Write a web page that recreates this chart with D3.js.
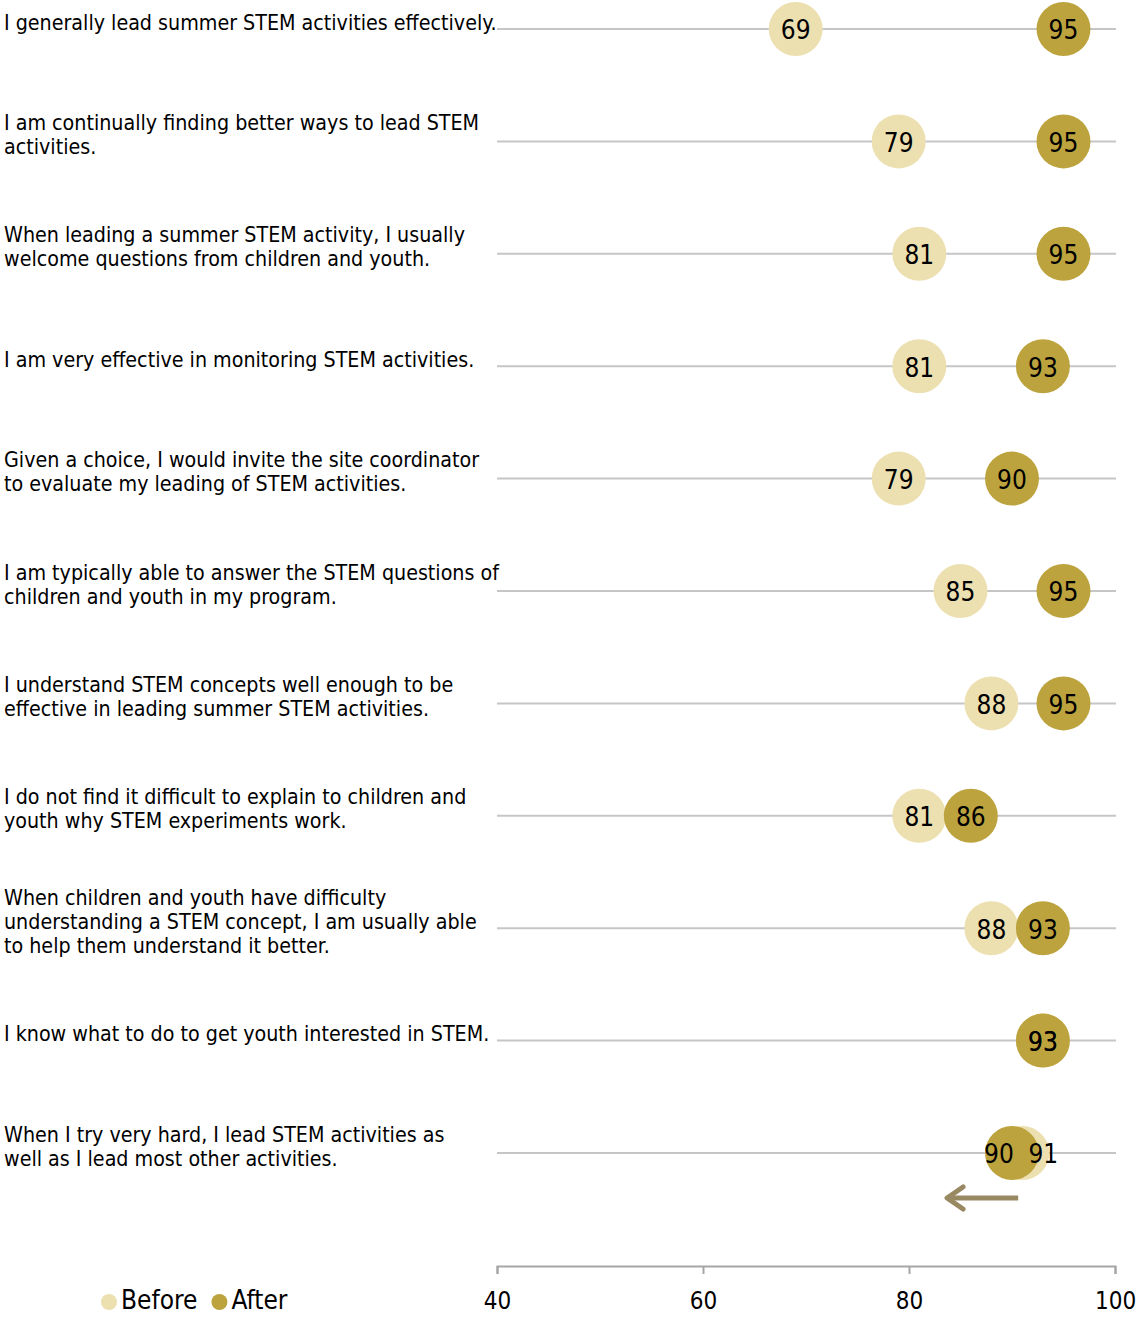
<!DOCTYPE html>
<html><head><meta charset="utf-8">
<script src="https://cdn.jsdelivr.net/npm/d3@7"></script>
<style>body{margin:0;background:#fff}</style>
</head><body><svg id="c" width="1138" height="1317"></svg>
<script>
const categories = [
  ["I generally lead summer STEM activities effectively."],
  ["I am continually finding better ways to lead STEM", "activities."],
  ["When leading a summer STEM activity, I usually", "welcome questions from children and youth."],
  ["I am very effective in monitoring STEM activities."],
  ["Given a choice, I would invite the site coordinator", "to evaluate my leading of STEM activities."],
  ["I am typically able to answer the STEM questions of", "children and youth in my program."],
  ["I understand STEM concepts well enough to be", "effective in leading summer STEM activities."],
  ["I do not find it difficult to explain to children and", "youth why STEM experiments work."],
  ["When children and youth have difficulty", "understanding a STEM concept, I am usually able", "to help them understand it better."],
  ["I know what to do to get youth interested in STEM."],
  ["When I try very hard, I lead STEM activities as", "well as I lead most other activities."]
];
const before = [69, 79, 81, 81, 79, 85, 88, 81, 88, 93, 91];
const after  = [95, 95, 95, 93, 90, 95, 95, 86, 93, 93, 90];
const tickValues = [40, 60, 80, 100];
const seriesNames = ["Before", "After"];
const arrowFromTo = [90.6, 83.5];

const colors = {Before: "#ECDFB0", After: "#BCA33E"};
const svg = d3.select("#c");
const x = d3.scaleLinear().domain([40, 100]).range([497, 1115]);
const y = d3.scalePoint().domain(d3.range(categories.length)).range([29, 1153]);
const r = 27;
const labelFont = "'DejaVu Sans Condensed', 'DejaVu Sans', sans-serif";

// row lines
svg.append("g").selectAll("line").data(categories).join("line")
  .attr("x1", x(40)).attr("x2", x(100) + 1)
  .attr("y1", (d, i) => y(i)).attr("y2", (d, i) => y(i))
  .attr("stroke", "#c6c6c6").attr("stroke-width", 2);

// labels (font size fitted so the first label spans the label column)
const lab = svg.append("g").attr("font-family", labelFont).attr("font-size", 20).attr("fill", "#000");
const probe = lab.append("text").text(categories[0][0]);
const fs = 20 * 493 / probe.node().getComputedTextLength();
probe.remove();
lab.attr("font-size", fs);
categories.forEach((lines, i) => {
  const lh = 24;
  const cy = y(i) - 7;
  const t = lab.append("text").attr("x", 4);
  lines.forEach((ln, j) => {
    t.append("tspan").attr("x", 4)
      .attr("y", cy - (lines.length - 1) * lh / 2 + j * lh)
      .attr("dy", "0.36em").text(ln);
  });
});

// dots
const rows = categories.map((c, i) => ({i, b: before[i], a: after[i]}));
const dots = svg.append("g");
dots.selectAll("circle.b").data(rows).join("circle")
  .attr("cx", d => x(d.b)).attr("cy", d => y(d.i)).attr("r", r).attr("fill", colors.Before);
dots.selectAll("circle.a").data(rows).join("circle")
  .attr("cx", d => x(d.a)).attr("cy", d => y(d.i)).attr("r", r).attr("fill", colors.After);

const nums = svg.append("g").attr("font-family", labelFont).attr("font-size", 26)
  .attr("text-anchor", "middle").attr("fill", "#000");
rows.forEach(d => {
  const diff = d.a - d.b;
  const close = diff !== 0 && Math.abs(diff) < 3;
  const sign = Math.sign(diff);
  nums.append("text").attr("x", x(d.b) + (close ? -sign * 21 : 0)).attr("y", y(d.i) + 1).attr("dy", "0.36em").text(d.b);
  nums.append("text").attr("x", x(d.a) + (close ? sign * 13 : 0)).attr("y", y(d.i) + 1).attr("dy", "0.36em").text(d.a);
});

// arrow annotation
const ay = y(categories.length - 1) + 45;
const ax1 = x(arrowFromTo[1]);
svg.append("line").attr("x1", x(arrowFromTo[0])).attr("x2", ax1 + 2)
  .attr("y1", ay).attr("y2", ay).attr("stroke", "#998963").attr("stroke-width", 5);
svg.append("path")
  .attr("d", `M${ax1 + 18},${ay - 11} L${ax1 + 2},${ay} L${ax1 + 18},${ay + 11}`)
  .attr("fill", "none").attr("stroke", "#998963").attr("stroke-width", 5)
  .attr("stroke-linecap", "round").attr("stroke-linejoin", "round");

// axis
const axis = d3.axisBottom(x).tickValues(tickValues).tickSize(8).tickSizeOuter(8).tickPadding(18);
const ag = svg.append("g").attr("transform", "translate(0,1266)").call(axis);
ag.select(".domain").attr("stroke", "#a6a6a6").attr("stroke-width", 2);
ag.selectAll(".tick line").attr("stroke", "#a6a6a6").attr("stroke-width", 2);
ag.selectAll(".tick text").attr("font-family", labelFont).attr("font-size", 24).attr("fill", "#000");

// legend
const lg = svg.append("g").attr("font-family", labelFont).attr("font-size", 26);
let lx = 109;
seriesNames.forEach(n => {
  lg.append("circle").attr("cx", lx).attr("cy", 1302).attr("r", 8).attr("fill", colors[n]);
  const t = lg.append("text").attr("x", lx + 12).attr("y", 1300).attr("dy", "0.36em").text(n);
  lx += 12 + t.node().getComputedTextLength() + 22;
});
</script></body></html>
